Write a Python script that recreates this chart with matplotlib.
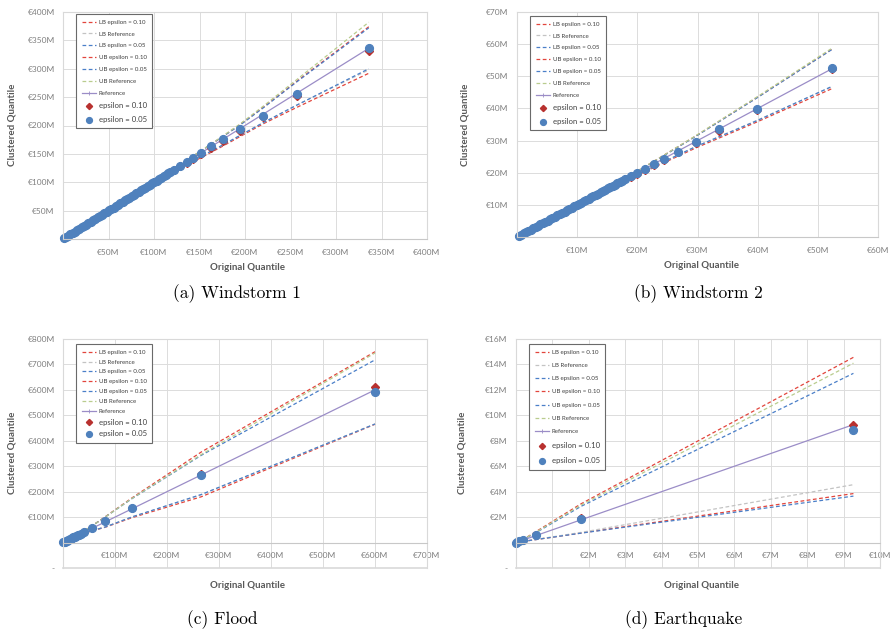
import matplotlib.pyplot as plt

plt.rcParams['font.family'] = ['Lato', 'DejaVu Sans']

W, H = 891, 629

# ---------------- Windstorm 1 (values in EUR millions) ----------------
ws1_body = [1, 3, 5.5, 8, 10.5, 13, 15.5, 18, 20.5, 23, 25.5, 28, 30.5, 33, 35.5,
            38, 40.5, 43, 45.5, 48, 50.5, 53, 55.5, 58, 60.5, 63, 65.5, 68, 70.5,
            73, 75.5, 78, 80.5, 83, 85.5, 88, 90.5, 93, 95.5, 98, 100.5, 103,
            105.5, 108, 110.5, 113, 115.5, 118]
ws1_tail = [122, 129, 136, 143, 152, 163, 176, 194, 220, 257, 336]
ws1_tail_eps10 = [121, 128, 134, 141, 150, 160, 173, 191, 215, 252, 331]
ws1_tail_eps05 = [122, 129, 135, 143, 152, 163, 176, 193, 217, 256, 337]
ws1_bx = [0, 50, 100, 122, 143, 176, 194, 220, 257, 336]
ws1_lb10 = [0, 49, 97, 117, 136, 164, 180, 203, 232, 292]
ws1_lbref = [0, 50, 99, 119, 138, 166, 182, 205, 236, 298]
ws1_lb05 = [0, 50, 99, 119, 138, 166, 182, 205, 236, 300]
ws1_ub10 = [0, 50, 101, 124, 146, 181, 201, 232, 278, 374]
ws1_ub05 = [0, 50, 101, 124, 146, 181, 200, 231, 277, 372]
ws1_ubref = [0, 50, 101, 124, 146, 182, 202, 234, 281, 382]
ws1_xticks = [0, 50, 100, 150, 200, 250, 300, 350, 400]
ws1_xlabels = ['', '€50M', '€100M', '€150M', '€200M', '€250M', '€300M', '€350M', '€400M']
ws1_yticks = [0, 50, 100, 150, 200, 250, 300, 350, 400]
ws1_ylabels = ['', '€50M', '€100M', '€150M', '€200M', '€250M', '€300M', '€350M', '€400M']

# ---------------- Windstorm 2 ----------------
ws2_body = [0.3, 0.7, 1.1, 1.5, 1.9, 2.3, 2.7, 3.1, 3.5, 3.9, 4.3, 4.7, 5.1, 5.5,
            5.9, 6.3, 6.7, 7.1, 7.5, 7.9, 8.3, 8.7, 9.1, 9.5, 9.9, 10.3, 10.7,
            11.1, 11.5, 11.9, 12.3, 12.7, 13.1, 13.5, 13.9, 14.3, 14.7, 15.1,
            15.5, 15.9, 16.3, 16.7, 17.1, 17.5]
ws2_tail = [18.0, 18.9, 20.0, 21.3, 22.8, 24.4, 26.8, 29.7, 33.6, 39.9, 52.4]
ws2_tail_eps10 = [17.9, 18.7, 19.7, 21.0, 22.4, 24.0, 26.3, 29.2, 33.1, 39.4, 52.2]
ws2_tail_eps05 = [18.0, 18.9, 19.9, 21.2, 22.7, 24.3, 26.6, 29.6, 33.5, 39.9, 52.7]
ws2_bx = [0, 10, 18, 22.8, 29.7, 39.9, 52.4]
ws2_lb10 = [0, 9.8, 17.4, 21.7, 27.7, 35.8, 46.2]
ws2_lbref = [0, 9.9, 17.6, 22.0, 28.1, 36.3, 46.8]
ws2_lb05 = [0, 9.9, 17.6, 22.0, 28.1, 36.2, 46.9]
ws2_ub10 = [0, 10.1, 18.3, 23.6, 31.4, 43.4, 58.5]
ws2_ub05 = [0, 10.1, 18.3, 23.5, 31.3, 43.3, 58.4]
ws2_ubref = [0, 10.1, 18.3, 23.6, 31.5, 43.6, 58.8]
ws2_xticks = [0, 10, 20, 30, 40, 50, 60]
ws2_xlabels = ['', '€10M', '€20M', '€30M', '€40M', '€50M', '€60M']
ws2_yticks = [0, 10, 20, 30, 40, 50, 60, 70]
ws2_ylabels = ['', '€10M', '€20M', '€30M', '€40M', '€50M', '€60M', '€70M']

# ---------------- Flood ----------------
fl_body = [0.5, 2, 4, 6, 8, 10, 12.5, 15, 17.5, 20, 22.5, 25, 28, 31, 34]
fl_tail = [41, 56, 81, 133, 266, 600]
fl_tail_eps10 = [43, 57, 85, 137, 268, 610]
fl_tail_eps05 = [43, 57, 84, 135, 266, 593]
fl_bx = [0, 20, 41, 56, 81, 133, 266, 600]
fl_lb10 = [0, 19, 37, 46, 60, 98, 180, 465]
fl_lbref = [0, 19, 37, 47, 61, 101, 188, 466]
fl_lb05 = [0, 19, 37, 47, 61, 101, 189, 466]
fl_ub10 = [0, 22, 46, 66, 101, 176, 356, 750]
fl_ub05 = [0, 22, 46, 66, 100, 173, 343, 718]
fl_ubref = [0, 22, 46, 66, 100, 174, 346, 745]
fl_xticks = [0, 100, 200, 300, 400, 500, 600, 700]
fl_xlabels = ['', '€100M', '€200M', '€300M', '€400M', '€500M', '€600M', '€700M']
fl_yticks = [-100, 0, 100, 200, 300, 400, 500, 600, 700, 800]
fl_ylabels = ['-', '', '€100M', '€200M', '€300M', '€400M', '€500M', '€600M', '€700M', '€800M']

# ---------------- Earthquake ----------------
eq_body = [0.0, 0.04]
eq_tail = [0.08, 0.2, 0.56, 1.79, 9.27]
eq_tail_eps10 = [0.1, 0.22, 0.62, 1.9, 9.24]
eq_tail_eps05 = [0.1, 0.22, 0.6, 1.83, 8.85]
eq_bx = [0, 0.2, 0.56, 1.79, 9.27]
eq_lb10 = [0, 0.09, 0.24, 0.75, 3.85]
eq_lbref = [0, 0.1, 0.25, 0.8, 4.55]
eq_lb05 = [0, 0.09, 0.24, 0.74, 3.65]
eq_ub10 = [0, 0.25, 0.88, 3.05, 14.56]
eq_ub05 = [0, 0.23, 0.8, 2.85, 13.3]
eq_ubref = [0, 0.24, 0.84, 2.95, 14.1]
eq_xticks = [0, 1, 2, 3, 4, 5, 6, 7, 8, 9, 10]
eq_xlabels = ['', '', '€2M', '€3M', '€4M', '€5M', '€6M', '€7M', '€8M', '€9M', '€10M']
eq_yticks = [-2, 0, 2, 4, 6, 8, 10, 12, 14, 16]
eq_ylabels = ['-', '', '€2M', '€4M', '€6M', '€8M', '€10M', '€12M', '€14M', '€16M']

RED = '#e2453c'
BLUE = '#4a7fc8'
GREY = '#c3c3c3'
OLIVE = '#b9cc8e'
PURPLE = '#9b8dc7'
DOT10 = '#b8312f'
DOT05 = '#4f81bd'
DASH = (0, (3, 2))


def fig_xy(px, py):
    return px / W, 1 - py / H


def draw_panel(fig, box, body, tail, t10, t05, bx, lb10, lbref, lb05, ub10, ub05, ubref,
               xticks, xlabels, yticks, ylabels, leg_at, leg_space, caption, cap_at,
               ylab_at, xlab_at):
    left, top, right, bottom = box
    ax = fig.add_axes([left / W, 1 - bottom / H, (right - left) / W, (bottom - top) / H])

    orig = body + tail
    eps10 = body + t10
    eps05 = body + t05

    ax.plot(bx, lb10, color=RED, lw=0.9, ls=DASH, label='LB epsilon = 0.10')
    ax.plot(bx, lbref, color=GREY, lw=0.9, ls=DASH, label='LB Reference')
    ax.plot(bx, lb05, color=BLUE, lw=0.9, ls=DASH, label='LB epsilon = 0.05')
    ax.plot(bx, ub10, color=RED, lw=0.9, ls=DASH, label='UB epsilon = 0.10')
    ax.plot(bx, ub05, color=BLUE, lw=0.9, ls=DASH, label='UB epsilon = 0.05')
    ax.plot(bx, ubref, color=OLIVE, lw=0.9, ls=DASH, label='UB Reference')
    ax.plot(orig, orig, color=PURPLE, lw=0.9, marker='+', ms=3, mew=0.6, label='Reference')
    ax.plot(orig, eps10, ls='none', marker='D', ms=4.2, color=DOT10, mec=DOT10,
            label='epsilon = 0.10', clip_on=False)
    ax.plot(orig, eps05, ls='none', marker='o', ms=5.6, color=DOT05, mec=DOT05,
            label='epsilon = 0.05', clip_on=False)

    ax.set_xlim(xticks[0], xticks[-1])
    ax.set_ylim(yticks[0], yticks[-1])
    ax.set_xticks(xticks)
    ax.set_xticklabels(xlabels)
    ax.set_yticks(yticks)
    ax.set_yticklabels(ylabels)
    ax.tick_params(length=0, labelsize=6, labelcolor='#7f7f7f')
    ax.tick_params(axis='y', pad=6)
    ax.tick_params(axis='x', pad=7)
    ax.grid(True, color='#dcdcdc', lw=0.7)
    ax.set_axisbelow(True)
    for side in ('left', 'top', 'right'):
        ax.spines[side].set_color('#d9d9d9')
        ax.spines[side].set_linewidth(0.8)
    ax.spines['bottom'].set_color('#c8c8c8')
    ax.spines['bottom'].set_linewidth(0.8)
    if yticks[0] < 0:
        ax.spines['bottom'].set_position(('data', 0))
        ax.axhline(yticks[0], color='#d9d9d9', lw=1.2, clip_on=False)

    leg = ax.legend(loc='upper left', bbox_to_anchor=fig_xy(*leg_at),
                    bbox_transform=fig.transFigure, borderaxespad=0, fontsize=4.4,
                    labelspacing=leg_space, handlelength=2.4, handletextpad=0.4,
                    borderpad=0.9, markerscale=0.75, fancybox=False, framealpha=1,
                    edgecolor='#6a6a6a')
    leg.get_frame().set_linewidth(0.8)
    for t in leg.get_texts():
        t.set_color('#404040')
    for t in leg.get_texts()[7:]:
        t.set_fontsize(5.6)

    fig.text(*fig_xy(*ylab_at), 'Clustered Quantile', rotation=90, ha='center',
             va='center', fontsize=7, fontweight='bold', color='#595959')
    fig.text(*fig_xy(*xlab_at), 'Original Quantile', ha='center', va='center',
             fontsize=7, fontweight='bold', color='#595959')
    fig.text(*fig_xy(*cap_at), caption, ha='center', va='center', fontsize=12.5,
             family='cmr10')


fig = plt.figure(figsize=(W / 100, H / 100), dpi=100)

draw_panel(fig, (63, 12, 427, 239), ws1_body, ws1_tail, ws1_tail_eps10, ws1_tail_eps05,
           ws1_bx, ws1_lb10, ws1_lbref, ws1_lb05, ws1_ub10, ws1_ub05, ws1_ubref,
           ws1_xticks, ws1_xlabels, ws1_yticks, ws1_ylabels, (76, 14), 1.07,
           '(a) Windstorm 1', (237, 294), (12, 125), (248, 267))
draw_panel(fig, (517, 12, 878, 237), ws2_body, ws2_tail, ws2_tail_eps10, ws2_tail_eps05,
           ws2_bx, ws2_lb10, ws2_lbref, ws2_lb05, ws2_ub10, ws2_ub05, ws2_ubref,
           ws2_xticks, ws2_xlabels, ws2_yticks, ws2_ylabels, (530, 16), 1.07,
           '(b) Windstorm 2', (698, 294), (465, 125), (702, 265))
draw_panel(fig, (63, 339, 427, 568), fl_body, fl_tail, fl_tail_eps10, fl_tail_eps05,
           fl_bx, fl_lb10, fl_lbref, fl_lb05, fl_ub10, fl_ub05, fl_ubref,
           fl_xticks, fl_xlabels, fl_yticks, fl_ylabels, (76, 344), 0.75,
           '(c) Flood', (222, 620), (12, 453), (248, 585))
draw_panel(fig, (516, 339, 880, 568), eq_body, eq_tail, eq_tail_eps10, eq_tail_eps05,
           eq_bx, eq_lb10, eq_lbref, eq_lb05, eq_ub10, eq_ub05, eq_ubref,
           eq_xticks, eq_xlabels, eq_yticks, eq_ylabels, (529, 344), 1.3,
           '(d) Earthquake', (684, 620), (462, 453), (702, 585))

fig.savefig('out.png', dpi=100)
